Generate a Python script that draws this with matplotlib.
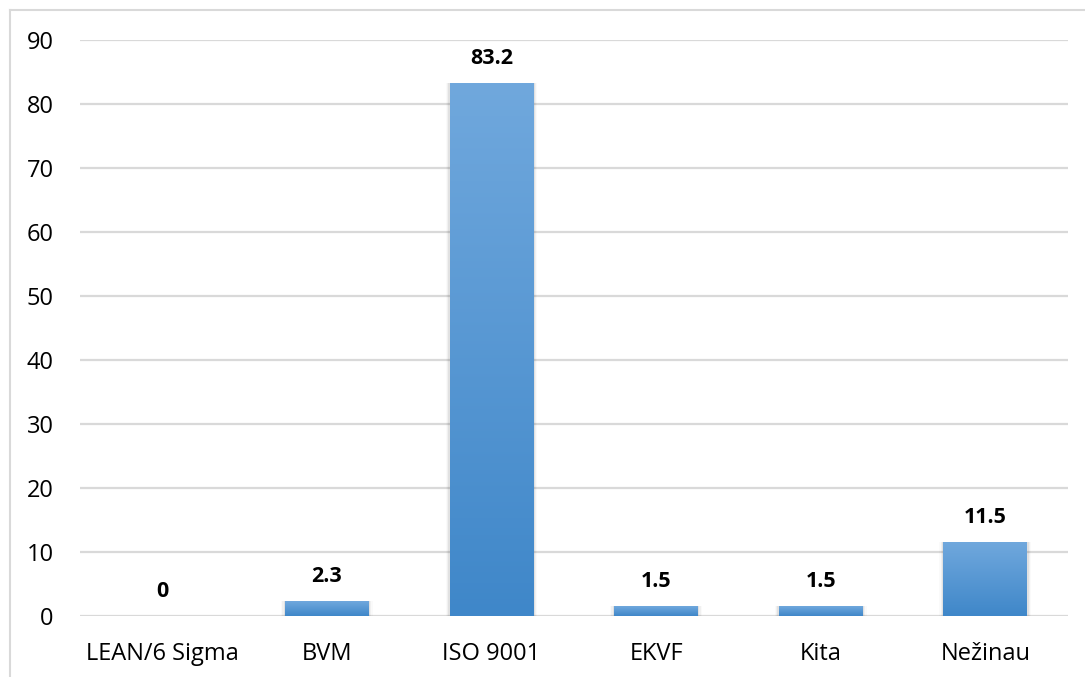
import matplotlib.pyplot as plt
import numpy as np
from matplotlib.colors import LinearSegmentedColormap
from matplotlib.patches import Rectangle

categories = ["LEAN/6 Sigma", "BVM", "ISO 9001", "EKVF", "Kita", "Nežinau"]
values = [0, 2.3, 83.2, 1.5, 1.5, 11.5]
yticks = [0, 10, 20, 30, 40, 50, 60, 70, 80, 90]

plt.rcParams['font.family'] = ['Open Sans', 'DejaVu Sans']

fig = plt.figure(figsize=(10.85, 6.77), dpi=100)
ax = fig.add_axes([0.0737, 0.0901, 0.9103, 0.8509])

x = np.arange(len(categories))
width = 0.51
bars = ax.bar(x, values, width=width, color='none', edgecolor='none', zorder=3)

grad = LinearSegmentedColormap.from_list("blu", ["#3f87c9", "#70a8dd"])
img = np.linspace(0, 1, 256).reshape(-1, 1)
for b, v in zip(bars, values):
    if v <= 0:
        continue
    x0 = b.get_x()
    # soft drop shadow
    for k, a in enumerate([0.06, 0.04, 0.02]):
        d = 0.008 * (k + 1)
        sh = Rectangle((x0 - d, -0.15 * (k + 1)), width + 2 * d, v + 0.15 * (k + 1),
                       facecolor='black', alpha=a, edgecolor='none', zorder=2)
        ax.add_patch(sh)
    im = ax.imshow(img, cmap=grad, aspect='auto', origin='lower',
                   extent=[x0, x0 + width, 0, v], zorder=3)
    im.set_clip_path(b)

for xi, v in zip(x, values):
    label = f"{v:g}"
    ax.text(xi, v + 3.9, label, ha='center', va='center', fontsize=15.5,
            fontweight='bold', color='black', zorder=4)

ax.set_xlim(-0.5, len(categories) - 0.5)
ax.set_ylim(0, 90)
ax.set_yticks(yticks)
ax.set_xticks(x)
ax.set_xticklabels(categories, fontsize=17)
ax.tick_params(axis='y', labelsize=17, length=0, pad=19)
ax.tick_params(axis='x', length=0, pad=19)
ax.grid(axis='y', color='#d9d9d9', linewidth=1.6, zorder=0)
ax.set_axisbelow(True)
for s in ax.spines.values():
    s.set_visible(False)

# outer chart border
fig.add_artist(plt.Line2D([10 / 1085, 10 / 1085], [0, 1 - 10 / 677],
                          transform=fig.transFigure, color='#d9d9d9', lw=1.5))
fig.add_artist(plt.Line2D([10 / 1085, 1], [1 - 10 / 677, 1 - 10 / 677],
                          transform=fig.transFigure, color='#d9d9d9', lw=1.5))

fig.savefig("out.png", dpi=100)
